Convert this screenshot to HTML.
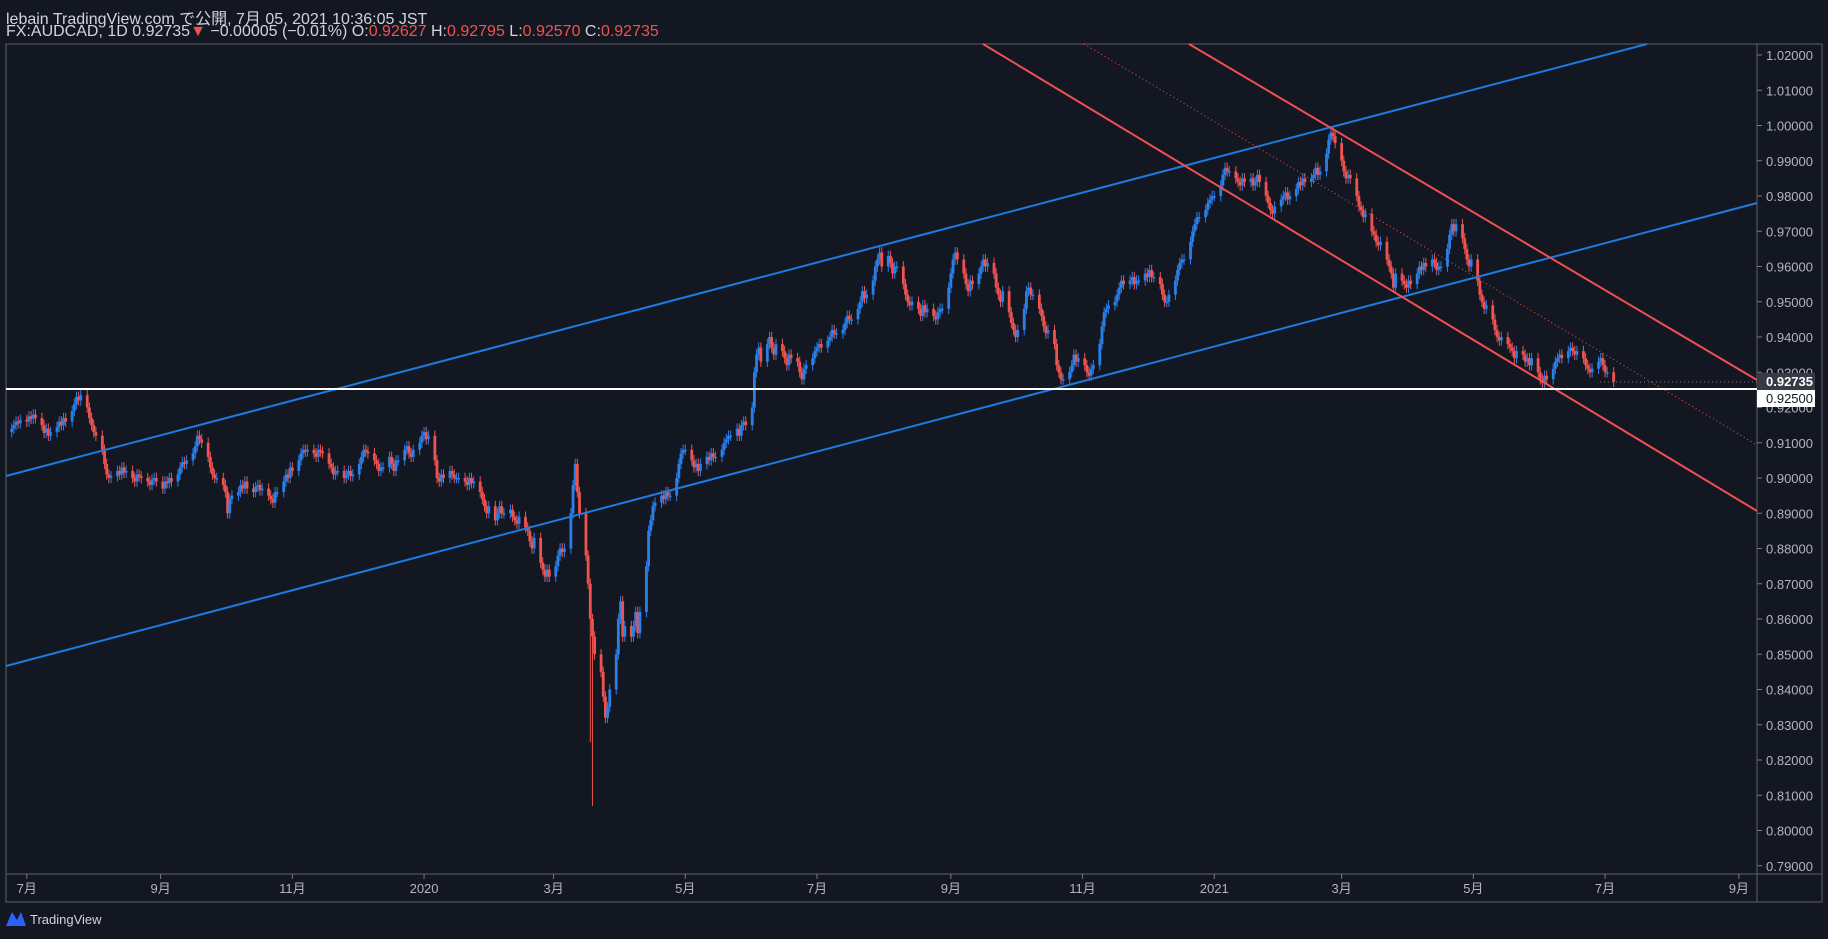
<!DOCTYPE html>
<html><head><meta charset="utf-8"><style>
body{margin:0;background:#131722;width:1828px;height:939px;overflow:hidden;font-family:"Liberation Sans","Noto Sans CJK JP",sans-serif;color:#d1d4dc}
.h{position:absolute;left:6px;font-size:16px;color:#d1d4dc;white-space:nowrap}
.r{color:#ef5350}
</style></head><body>
<div class="h" style="top:5px">lebain TradingView.com で公開, 7月 05, 2021 10:36:05 JST</div>
<div class="h" style="top:23px">FX:AUDCAD, 1D 0.92735<span class="r">▼</span> −0.00005 (−0.01%) O:<span class="r">0.92627</span> H:<span class="r">0.92795</span> L:<span class="r">0.92570</span> C:<span class="r">0.92735</span></div>
<svg id="c" width="1828" height="939" style="position:absolute;left:0;top:0"></svg>
<script>
const closes=[9140,9150,9160,9155,9165,9160,9175,9168,9180,9170,9150,9128,9140,9120,9130,9145,9160,9150,9170,9160,9190,9210,9230,9220,9235,9200,9170,9150,9130,9120,9080,9040,9010,9000,9005,9020,9010,9030,9015,9020,9000,8990,9010,9005,9000,8990,8980,8995,9000,8990,8970,8990,8985,9000,8990,9010,9030,9045,9040,9050,9070,9090,9120,9110,9100,9060,9030,9010,9000,9000,8980,8960,8900,8940,8950,8960,8980,8970,8990,8970,8960,8975,8980,8965,8970,8950,8940,8930,8960,8960,8990,9010,9000,9030,9020,9050,9070,9080,9075,9080,9070,9060,9080,9075,9070,9040,9030,9010,9020,9020,9000,9010,9020,9005,9010,9040,9060,9080,9075,9070,9050,9040,9020,9030,9030,9060,9040,9020,9050,9050,9080,9090,9070,9060,9080,9100,9120,9130,9110,9120,9050,9000,8990,9010,9000,9020,9010,9000,9000,9000,8990,8980,9000,8985,8990,8960,8940,8920,8900,8920,8880,8900,8920,8900,8900,8910,8890,8880,8870,8890,8860,8850,8820,8800,8830,8760,8740,8720,8740,8720,8750,8780,8800,8790,8800,8900,8980,9040,8960,8900,8780,8700,8600,8550,8500,8450,8380,8320,8350,8400,8500,8600,8650,8550,8580,8550,8580,8620,8560,8620,8750,8850,8880,8920,8930,8950,8940,8960,8950,8950,9000,9040,9070,9080,9080,9050,9030,9040,9020,9040,9060,9050,9070,9060,9060,9080,9100,9110,9120,9120,9140,9120,9150,9160,9150,9200,9300,9350,9370,9330,9380,9400,9370,9350,9380,9360,9340,9320,9350,9340,9330,9300,9280,9310,9320,9340,9360,9370,9380,9370,9390,9400,9420,9410,9410,9420,9440,9460,9450,9450,9480,9500,9530,9510,9520,9560,9600,9620,9640,9600,9630,9610,9580,9600,9600,9550,9520,9500,9490,9500,9480,9460,9490,9470,9480,9460,9450,9470,9480,9480,9540,9580,9620,9640,9620,9580,9550,9530,9560,9550,9580,9600,9620,9600,9610,9580,9540,9520,9500,9530,9470,9440,9420,9400,9420,9480,9530,9540,9520,9520,9480,9460,9430,9410,9420,9380,9320,9300,9280,9280,9300,9320,9350,9330,9340,9320,9300,9290,9310,9320,9380,9430,9470,9480,9490,9500,9520,9540,9560,9550,9560,9570,9550,9560,9560,9580,9570,9590,9570,9570,9550,9520,9500,9500,9520,9560,9590,9610,9620,9620,9670,9700,9720,9740,9740,9760,9780,9790,9800,9800,9830,9860,9880,9870,9870,9850,9840,9830,9850,9840,9850,9830,9840,9860,9840,9800,9780,9760,9750,9770,9790,9800,9810,9790,9800,9820,9840,9830,9850,9840,9850,9860,9880,9860,9870,9920,9960,9980,9970,9950,9900,9870,9850,9860,9850,9800,9770,9760,9740,9750,9700,9690,9670,9660,9670,9620,9600,9580,9540,9580,9560,9550,9540,9560,9550,9580,9600,9590,9610,9600,9620,9610,9590,9600,9600,9650,9690,9720,9700,9720,9680,9650,9620,9600,9620,9560,9520,9500,9480,9490,9450,9420,9400,9390,9400,9380,9370,9360,9340,9360,9350,9330,9340,9320,9340,9300,9280,9270,9290,9280,9310,9330,9340,9350,9340,9360,9370,9360,9350,9360,9340,9320,9310,9300,9310,9330,9340,9320,9300,9300,9273];
const wickIdx=[193,192];
const wickLow=[8070,8250];
const priceTicks=[1.02,1.01,1.00,0.99,0.98,0.97,0.96,0.95,0.94,0.93,0.92,0.91,0.90,0.89,0.88,0.87,0.86,0.85,0.84,0.83,0.82,0.81,0.80,0.79];
const timeLabels=["7月","9月","11月","2020","3月","5月","7月","9月","11月","2021","3月","5月","7月","9月"];
const timeLabelDays=[0,62,123,184,244,305,366,428,489,550,609,670,731,793];
const NS="http://www.w3.org/2000/svg",svg=document.getElementById('c');
const yP=p=>55+(1.02-p)*3525;
const xD=d=>26.8+d*2.159;
function mk(t,a,p){const e=document.createElementNS(NS,t);for(const k in a)e.setAttribute(k,a[k]);(p||svg).appendChild(e);return e;}
let e;
e=mk('rect',{x:6,y:44,width:1816,height:858,fill:'none',stroke:'#5d606b','stroke-width':1});

e=mk('line',{x1:1757,y1:44,x2:1757,y2:902,stroke:'#5d606b'});

e=mk('line',{x1:6,y1:874,x2:1822,y2:874,stroke:'#5d606b'});

priceTicks.forEach(p=>{const y=yP(p);
 mk('line',{x1:1757,y1:y,x2:1762,y2:y,stroke:'#787b86'});
 e=mk('text',{x:1766,y:y+5,fill:'#b2b5be','font-size':13});e.textContent=p.toFixed(5);
 });
timeLabels.forEach((t,i)=>{const x=xD(timeLabelDays[i]);
 mk('line',{x1:x,y1:874,x2:x,y2:879,stroke:'#787b86'});
 e=mk('text',{x:x,y:893,fill:'#b2b5be','font-size':13,'text-anchor':'middle'});e.textContent=t;
 });
const g=mk('g',{});
let prev=closes[0]-10;
closes.forEach((c,i)=>{const w=Math.floor(i/5)-1,k=i%5,d=7*w+k;const x=xD(d);
 const o=prev,cl=c;const up=cl>=o;const col=up?'#2a7fe8':'#ef5350';
 const hi=Math.max(o,cl)+15;let lo=Math.min(o,cl)-15;
 const wi=wickIdx.indexOf(i);if(wi>=0)lo=wickLow[wi];
 e=mk('line',{x1:x,y1:yP(hi/1e4),x2:x,y2:yP(lo/1e4),stroke:col,'stroke-width':1},g);
 const yt=yP(Math.max(o,cl)/1e4),yb=yP(Math.min(o,cl)/1e4);
 e=mk('rect',{x:x-1.4,y:yt,width:2.8,height:Math.max(1.5,yb-yt),fill:col},g);
 
 prev=c;});
const L=(n,x1,y1,x2,y2,c,extra)=>{e=mk('line',Object.assign({x1,y1,x2,y2,stroke:c,'stroke-width':2},extra||{}));};
L('blue-upper-trendline',6,476,1647,44,'#1e7be0');
L('blue-lower-trendline',6,666,1757,203,'#1e7be0');
L('red-channel-upper',1189,44,1757,380,'#f05050');
L('red-channel-lower',983,44,1757,511,'#f05050');
L('red-channel-mid',1084,44,1757,445,'#f05050',{'stroke-width':1,'stroke-dasharray':'1,3'});
L('support-line-0925',6,389,1757,389,'#ffffff');
mk('line',{x1:1600,y1:382,x2:1757,y2:382,stroke:'#787b86','stroke-dasharray':'1,3'});
e=mk('rect',{x:1757,y:373,width:58,height:17,fill:'#363a45'});
e=mk('text',{x:1766,y:386,fill:'#fff','font-size':13,'font-weight':'bold'});e.textContent='0.92735';

e=mk('rect',{x:1757,y:390,width:58,height:17,fill:'#ffffff'});
e=mk('text',{x:1766,y:403,fill:'#131722','font-size':13});e.textContent='0.92500';

e=mk('path',{d:'M6 926 L12 912 L17 920 L21 912 L26 926 Z',fill:'#2962ff'});

e=mk('text',{x:30,y:924,fill:'#d1d4dc','font-size':13});e.textContent='TradingView';

</script>
</body></html>
